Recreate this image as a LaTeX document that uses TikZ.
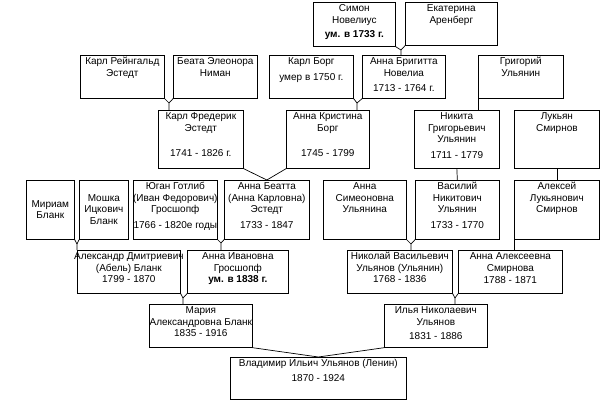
\documentclass[tikz,border=0pt]{standalone}
\usepackage{fontspec}
\setmainfont{Liberation Sans}
\newcommand{\pbox}[4][t]{\parbox[c][#3][#1]{#2}{\centering\makebox[0pt]{\begin{tabular}[t]{@{}c@{}}\rule{0pt}{9.5pt}#4\end{tabular}}}}
\tikzset{
  person/.style={draw, line width=0.7pt, anchor=north west, inner sep=0pt,
    font=\fontsize{10}{11.5}\selectfont},
  link/.style={draw, line width=0.7pt}
}
\begin{document}
\begin{tikzpicture}[x=1pt, y=-1pt]
\useasboundingbox (0,0) rectangle (600,400);
\node[person] (simon) at (313,2) {\pbox{82pt}{44pt}{Симон\\Новелиус\\[3pt]\textbf{ум. в 1733 г.}}};
\node[person] (ekaterina) at (405,2) {\pbox{92pt}{43pt}{Екатерина\\Аренберг}};
\node[person] (reingold) at (80,55) {\pbox{84pt}{43pt}{Карл Рейнгальд\\Эстедт}};
\node[person] (niman) at (173,55) {\pbox{84pt}{43pt}{Беата Элеонора\\Ниман}};
\node[person] (borg) at (269,55) {\pbox{84pt}{43pt}{Карл Борг\\[4pt]умер в 1750 г.}};
\node[person] (brigitta) at (362,55) {\pbox{83pt}{43pt}{Анна Бригитта\\Новелиа\\[4pt]1713 - 1764 г.}};
\node[person] (grigory) at (478,55) {\pbox{85pt}{43pt}{Григорий\\Ульянин}};
\node[person] (fredrik) at (158,110) {\pbox{85pt}{58pt}{Карл Фредерик\\Эстедт\\[14pt]1741 - 1826 г.}};
\node[person] (kristina) at (286,110) {\pbox{83pt}{58pt}{Анна Кристина\\Борг\\[14pt]1745 - 1799}};
\node[person] (nikita) at (414,110) {\pbox{85pt}{58pt}{Никита\\Григорьевич\\Ульянин\\[4pt]1711 - 1779}};
\node[person] (lukyan) at (514,110) {\pbox{85pt}{58pt}{Лукьян\\Смирнов}};
\node[person] (miriam) at (26,180) {\pbox[c]{48pt}{59pt}{Мириам\\Бланк}};
\node[person] (moshka) at (79,180) {\pbox[c]{49pt}{59pt}{Мошка\\Ицкович\\Бланк}};
\node[person] (yugan) at (133,180) {\pbox{84pt}{59pt}{Юган Готлиб\\(Иван Федорович)\\Гросшопф\\[4pt]1766 - 1820е годы}};
\node[person] (beatta) at (224,180) {\pbox{85pt}{59pt}{Анна Беатта\\(Анна Карловна)\\Эстедт\\[4pt]1733 - 1847}};
\node[person] (simeonovna) at (323,180) {\pbox{83pt}{59pt}{Анна\\Симеоновна\\Ульянина}};
\node[person] (vasily) at (415,180) {\pbox{84pt}{59pt}{Василий\\Никитович\\Ульянин\\[4pt]1733 - 1770}};
\node[person] (aleksey) at (514,180) {\pbox{85pt}{59pt}{Алексей\\Лукьянович\\Смирнов}};
\node[person] (aleksandr) at (77,250) {\pbox{103pt}{43pt}{Александр Дмитриевич\\(Абель) Бланк\\1799 - 1870}};
\node[person] (ivanovna) at (187,250) {\pbox{101pt}{43pt}{Анна Ивановна\\Гросшопф\\\textbf{ум. в 1838 г.}}};
\node[person] (nikolay) at (347,250) {\pbox{105pt}{43pt}{Николай Васильевич\\Ульянов (Ульянин)\\1768 - 1836}};
\node[person] (smirnova) at (458,250) {\pbox{104pt}{43pt}{Анна Алексеевна\\Смирнова\\[1pt]1788 - 1871}};
\node[person] (maria) at (149,304) {\pbox{103pt}{43pt}{Мария\\Александровна Бланк\\1835 - 1916}};
\node[person] (ilya) at (384,304) {\pbox{103pt}{43pt}{Илья Николаевич\\Ульянов\\[3pt]1831 - 1886}};
\node[person] (vladimir) at (230,357) {\pbox{176pt}{42pt}{Владимир Ильич Ульянов (Ленин)\\[3pt]1870 - 1924}};
\coordinate (j1) at (401,50);
\draw[link] (simon.south east) -- (j1) -- (j1 |- brigitta.north);
\draw[link] (ekaterina.south west) -- (j1);
\coordinate (j2) at (169,103);
\draw[link] (reingold.south east) -- (j2) -- (j2 |- fredrik.north);
\draw[link] (niman.south west) -- (j2);
\coordinate (j3) at (357,103);
\draw[link] (borg.south east) -- (j3) -- (j3 |- kristina.north);
\draw[link] (brigitta.south west) -- (j3);
\draw[link] (grigory.south west) -- (grigory.south west |- nikita.north);
\draw[link] (fredrik.south east) -- (beatta.north) -- (kristina.south west);
\draw[link] (nikita.south) -- (vasily.north);
\draw[link] (lukyan.south) -- (aleksey.north);
\coordinate (j4) at (77,244);
\draw[link] (miriam.south east) -- (j4) -- (aleksandr.north west);
\draw[link] (moshka.south west) -- (j4);
\coordinate (j5) at (221,243);
\draw[link] (yugan.south east) -- (j5) -- (j5 |- ivanovna.north);
\draw[link] (beatta.south west) -- (j5);
\coordinate (j6) at (411,244);
\draw[link] (simeonovna.south east) -- (j6) -- (j6 |- nikolay.north);
\draw[link] (vasily.south west) -- (j6);
\draw[link] (aleksey.south west) -- (aleksey.south west |- smirnova.north);
\coordinate (j7) at (183,298);
\draw[link] (aleksandr.south east) -- (j7) -- (j7 |- maria.north);
\draw[link] (ivanovna.south west) -- (j7);
\coordinate (j8) at (455,298);
\draw[link] (nikolay.south east) -- (j8) -- (j8 |- ilya.north);
\draw[link] (smirnova.south west) -- (j8);
\draw[link] (maria.south east) -- (vladimir.north) -- (ilya.south west);
\end{tikzpicture}
\end{document}
